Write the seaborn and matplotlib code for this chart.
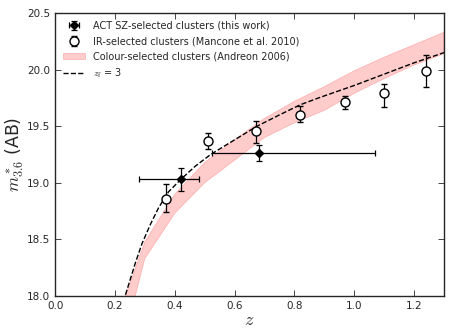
import numpy as np
import pandas as pd
import matplotlib
matplotlib.use("Agg")
import matplotlib.pyplot as plt
import seaborn as sns

# ACT SZ-selected clusters
act_z = [0.42, 0.68]
act_m = [19.03, 19.26]
act_zlo = [0.14, 0.155]
act_zhi = [0.06, 0.39]
act_merr = [0.10, 0.07]

# IR-selected clusters (Mancone et al. 2010)
ir_z = [0.37, 0.51, 0.67, 0.82, 0.97, 1.10, 1.24]
ir_m = [18.86, 19.37, 19.46, 19.60, 19.71, 19.79, 19.99]
ir_err_lo = [0.12, 0.07, 0.11, 0.06, 0.06, 0.12, 0.14]
ir_err_hi = [0.13, 0.07, 0.09, 0.08, 0.06, 0.08, 0.14]

# Colour-selected clusters band (Andreon 2006)
band_z = [0.2, 0.3, 0.4, 0.5, 0.6, 0.7, 0.8, 0.9, 1.0, 1.1, 1.2, 1.3]
band_hi = [17.75, 18.48, 18.9, 19.18, 19.38, 19.57, 19.72, 19.85, 19.99, 20.11, 20.22, 20.33]
band_lo = [17.3, 18.33, 18.73, 19.0, 19.2, 19.4, 19.53, 19.64, 19.79, 19.92, 20.04, 20.14]

# z_f = 3 model
mod_z = [0.2, 0.234, 0.268, 0.29, 0.318, 0.346, 0.379, 0.42, 0.47, 0.52, 0.6, 0.675,
         0.75, 0.82, 0.886, 1.0, 1.1, 1.2, 1.3]
mod_m = [17.7, 18.0, 18.29, 18.46, 18.63, 18.78, 18.92, 19.03, 19.15, 19.25, 19.38, 19.5,
         19.6, 19.69, 19.755, 19.86, 19.96, 20.06, 20.15]

sns.set_style("ticks")
plt.rcParams['font.family'] = ['DejaVu Sans']
plt.rcParams['mathtext.fontset'] = 'cm'

fig = plt.figure(figsize=(4.63, 3.33), dpi=100)
ax = fig.add_axes([0.119, 0.111, 0.840, 0.850])

ax.fill_between(band_z, band_lo, band_hi, color='red', alpha=0.2, linewidth=0.6,
                label='Colour-selected clusters (Andreon 2006)')
mod_df = pd.DataFrame({'z': mod_z, 'm': mod_m})
sns.lineplot(data=mod_df, x='z', y='m', ax=ax, color='black', linestyle='--',
             linewidth=1.0, dashes=(5, 4), label=r'$z_{\rm f}$ = 3')

ax.errorbar(act_z, act_m, xerr=[act_zlo, act_zhi], yerr=act_merr, fmt='D',
            color='black', mfc='black', mec='black', ms=4, elinewidth=0.9,
            capsize=2.5, capthick=0.9, label='ACT SZ-selected clusters (this work)', zorder=5)
ax.errorbar(ir_z, ir_m, yerr=[ir_err_lo, ir_err_hi], fmt='o', color='black',
            mfc='white', mec='black', ms=6.5, mew=1.0, elinewidth=0.9,
            capsize=2.5, capthick=0.9, label='IR-selected clusters (Mancone et al. 2010)', zorder=6)

ax.set_xlim(0.0, 1.3)
ax.set_ylim(18.0, 20.5)
ax.set_xticks([0.0, 0.2, 0.4, 0.6, 0.8, 1.0, 1.2])
ax.set_yticks([18.0, 18.5, 19.0, 19.5, 20.0, 20.5])
ax.tick_params(direction='in', top=True, right=True, labelsize=7.5, length=4, width=0.6)
for s in ax.spines.values():
    s.set_linewidth(1.0)
ax.set_xlabel(r'$z$', fontsize=13, labelpad=0)
ax.set_ylabel(r'$m^*_{3.6}$ (AB)', fontsize=12.5, labelpad=1)

h, l = ax.get_legend_handles_labels()
order = ['ACT SZ-selected clusters (this work)', 'IR-selected clusters (Mancone et al. 2010)',
         'Colour-selected clusters (Andreon 2006)', r'$z_{\rm f}$ = 3']
hd = dict(zip(l, h))
ax.legend([hd[k] for k in order], order, loc='upper left', frameon=False,
          fontsize=7, handlelength=2.3, borderaxespad=0.4, labelspacing=0.55)

fig.savefig('out.png', dpi=100)
